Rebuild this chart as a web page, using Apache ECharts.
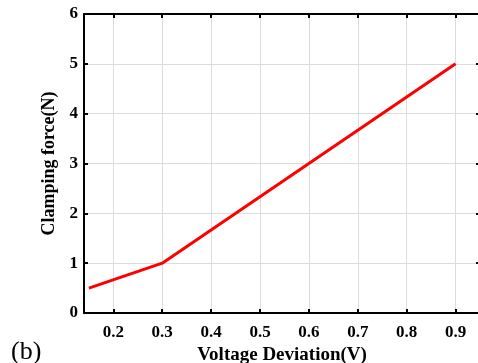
<!DOCTYPE html>
<html><head><meta charset="utf-8">
<script src="https://cdn.jsdelivr.net/npm/echarts@6/dist/echarts.min.js"></script>
<style>html,body{margin:0;padding:0;background:#fff}#c{width:478px;height:363px}</style>
</head><body><div id="c"></div>
<script>
const voltage = [0.15, 0.3, 0.9];
const force = [0.5, 1.0, 5.0];
const xName = 'Voltage Deviation(V)';
const yName = 'Clamping force(N)';
const panelLabel = '(b)';

const font = '"Liberation Serif", "Times New Roman", serif';
const chart = echarts.init(document.getElementById('c'));
const axisCommon = {
  axisLine: {show: true, onZero: false, lineStyle: {color: '#000', width: 2}},
  axisTick: {show: true, inside: true, length: 4, lineStyle: {color: '#000', width: 2}},
};
chart.setOption({
  animation: false,
  title: {text: panelLabel, left: 6, top: 334, textStyle: {fontFamily: font, fontWeight: 'normal', fontSize: 26, color: '#000'}},
  grid: {left: 84, top: 14, width: 396, height: 299, containLabel: false, outerBoundsMode: 'none'},
  xAxis: [{
    type: 'value', min: 0.14, max: 0.95, splitNumber: 8,
    name: xName, nameLocation: 'middle', nameGap: 30,
    nameTextStyle: {fontFamily: font, fontWeight: 'bold', fontSize: 19, color: '#000'},
    ...axisCommon,
    axisLabel: {show: true, showMinLabel: false, showMaxLabel: false, margin: 11, fontFamily: font, fontWeight: 'bold', fontSize: 17, color: '#000', formatter: v => v.toFixed(1)},
    splitLine: {show: true, lineStyle: {color: '#dcdcdc', width: 1}}
  }, {
    type: 'value', min: 0.14, max: 0.95, splitNumber: 8, position: 'top',
    ...axisCommon,
    axisLabel: {show: false}, splitLine: {show: false}
  }],
  yAxis: [{
    type: 'value', min: 0, max: 6, interval: 1,
    name: yName, nameLocation: 'middle', nameGap: 21,
    nameTextStyle: {fontFamily: font, fontWeight: 'bold', fontSize: 18, color: '#000'},
    ...axisCommon,
    axisLabel: {show: true, margin: 6, fontFamily: font, fontWeight: 'bold', fontSize: 17, color: '#000'},
    splitLine: {show: true, lineStyle: {color: '#dcdcdc', width: 1}}
  }, {
    type: 'value', min: 0, max: 6, interval: 1, position: 'right',
    ...axisCommon,
    axisLabel: {show: false}, splitLine: {show: false}
  }],
  series: [{
    type: 'line', xAxisIndex: 0, yAxisIndex: 0,
    data: voltage.map((v, i) => [v, force[i]]),
    showSymbol: false, symbol: 'none',
    lineStyle: {color: '#ff0000', width: 3}
  }]
});
</script></body></html>
